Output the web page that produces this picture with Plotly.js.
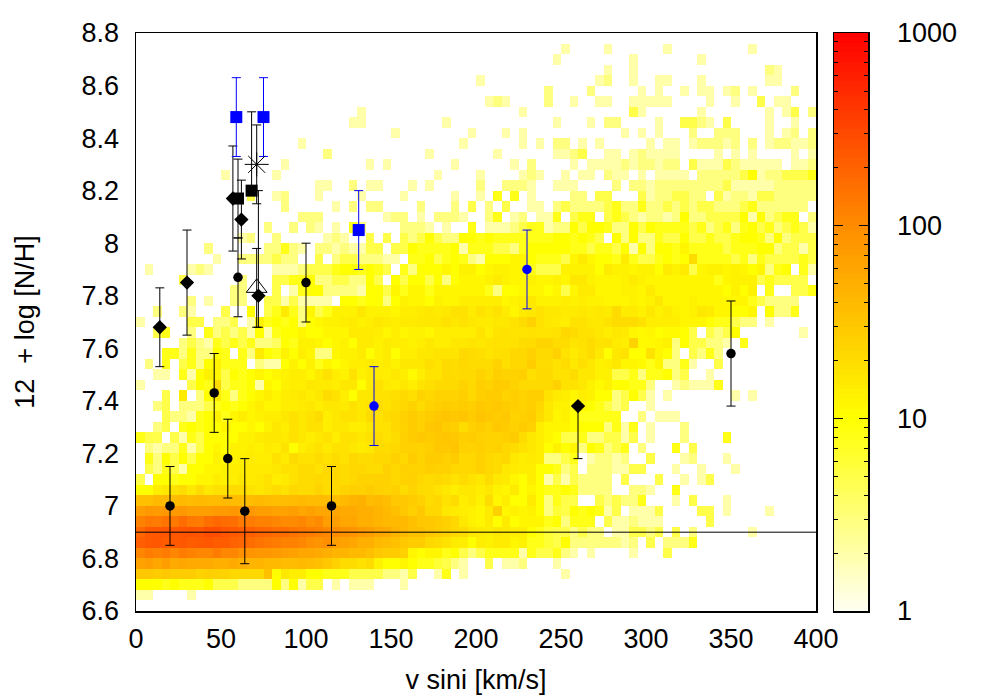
<!DOCTYPE html>
<html><head><meta charset="utf-8">
<script src="https://cdn.plot.ly/plotly-3.0.1.min.js"></script>
<style>html,body{margin:0;padding:0;background:#fff}</style>
</head><body><div id="g" style="width:1000px;height:700px"></div>
<script>
// Histogram counts, top row (8.76-8.80) first; each row runs v sini = 0..400 in 5 km/s bins. 0 = empty. Short rows are empty to the right.
const countRows = [
[],
[0,0,0,0,0,0,0,0,0,0,0,0,0,0,0,0,0,0,0,0,0,0,0,0,0,0,0,0,0,0,0,0,0,0,0,0,0,0,0,0,0,0,0,0,0,0,0,0,0,0,2,0,0,0,0,2,0,0,0,0,0,0,2,0,0,0,0,0,0,0,0,0,2],
[0,0,0,0,0,0,0,0,0,0,0,0,0,0,0,0,0,0,0,0,0,0,0,0,0,0,0,0,0,0,0,0,0,0,0,0,0,0,0,0,0,0,0,0,0,0,0,0,0,2,0,0,0,0,0,0,0,0,2,0,0,0,0,0,0,0,2],
[0,0,0,0,0,0,0,0,0,0,0,0,0,0,0,0,0,0,0,0,0,0,0,0,0,0,0,0,0,0,0,0,0,0,0,0,0,0,0,0,0,0,0,0,0,0,0,0,0,0,0,0,0,0,0,2,0,0,2,0,0,0,0,0,0,0,0,0,0,0,0,0,0,0,3,2],
[0,0,0,0,0,0,0,0,0,0,0,0,0,0,0,0,0,0,0,0,0,0,0,0,0,0,0,0,0,0,0,0,0,0,0,0,0,0,0,0,2,0,0,0,0,0,0,0,0,0,0,0,0,0,2,3,0,0,2,0,0,2,2,0,0,0,2,0,0,0,0,0,0,0,2,2],
[0,0,0,0,0,0,0,0,0,0,0,0,0,0,0,0,0,0,0,0,0,0,0,0,0,0,0,0,0,0,0,0,0,0,0,0,0,0,0,0,0,0,0,0,0,0,0,0,3,0,0,0,0,3,0,0,0,0,0,2,0,2,0,0,2,0,2,2,0,2,3,0,2,0,0,0,0,3],
[0,0,0,0,0,0,0,0,0,0,0,0,0,0,0,0,0,0,0,0,0,0,0,0,0,0,0,0,0,0,0,0,0,0,0,0,0,0,0,0,0,2,3,2,0,0,0,0,3,0,0,2,0,0,2,2,0,0,2,2,2,2,2,0,0,0,0,2,0,0,2,0,0,5,0,2,2],
[0,0,0,0,0,0,0,0,0,0,0,0,0,0,0,0,0,0,0,0,0,0,0,0,0,0,2,0,0,0,0,0,0,0,0,0,0,0,0,0,0,0,0,0,0,2,0,0,0,0,0,0,0,0,0,0,0,0,5,2,0,0,0,0,0,0,2,0,0,0,0,0,0,0,2,0,2,5,0,3],
[0,0,0,0,0,0,0,0,0,0,0,0,0,0,0,0,0,0,0,0,0,0,0,0,0,2,2,0,0,0,0,0,0,0,0,0,2,0,0,0,0,0,0,0,0,0,0,0,0,2,0,0,0,2,0,3,3,0,0,0,0,2,0,0,5,5,3,2,0,5,0,0,0,0,2,0,0,2],
[0,0,0,0,0,0,0,0,0,0,0,0,0,0,0,0,0,0,0,0,0,0,0,0,0,0,0,0,0,0,2,0,0,0,0,0,0,0,0,2,0,0,0,2,0,2,0,0,0,0,0,0,0,0,0,0,0,2,0,2,0,2,0,0,0,3,0,0,3,3,3,0,0,0,2,0,2,3,0,3],
[0,0,0,0,0,0,0,0,0,0,0,0,0,0,0,0,0,0,0,2,0,0,0,0,0,0,0,0,0,0,0,0,0,0,0,0,0,0,2,0,0,0,0,0,0,2,0,2,0,3,3,0,2,0,2,0,0,0,0,0,2,0,2,2,0,2,3,3,3,2,3,0,3,0,2,3,3,2,2,3],
[0,0,0,0,0,0,0,0,0,0,0,0,0,0,0,0,0,0,0,0,0,0,3,0,0,0,0,0,0,0,0,0,0,0,2,0,0,0,0,0,0,0,2,0,0,0,0,0,0,2,2,3,5,0,0,2,2,0,2,3,2,2,2,2,0,0,0,0,2,0,2,0,2,0,0,0,0,2,0,2],
[0,0,0,0,0,0,0,0,0,0,0,0,0,0,0,0,0,2,0,0,0,0,0,0,0,0,0,2,0,2,0,0,0,0,0,0,0,2,0,0,0,0,0,0,2,0,3,0,0,0,0,2,0,2,2,2,2,3,2,3,3,2,3,3,0,5,2,2,2,5,3,2,2,2,2,2,0,2,2,3],
[0,0,0,0,0,0,0,0,0,0,2,0,0,0,0,0,2,0,0,0,0,0,0,0,0,0,0,0,0,0,0,0,0,0,0,2,0,0,0,0,2,0,0,0,0,2,3,2,0,0,2,0,2,2,0,3,2,2,0,2,0,2,2,2,2,0,3,3,3,3,3,5,10,2,3,3,5,5,5,8],
[0,0,0,0,0,0,0,0,0,0,0,0,0,0,0,0,0,0,0,0,0,2,2,0,0,3,0,2,2,0,0,0,2,0,2,0,0,0,0,0,3,0,0,3,3,3,2,0,0,2,2,2,0,0,0,0,3,0,3,3,2,3,3,3,3,3,3,3,3,5,2,2,2,2,2,3,3,3,3,3],
[0,0,0,0,0,0,0,0,0,0,0,0,0,5,0,0,2,3,0,0,0,2,0,0,0,0,2,0,0,0,0,2,0,0,0,0,0,2,0,0,2,0,8,0,8,0,2,0,0,0,0,3,3,0,5,5,0,0,0,5,2,3,3,5,5,3,3,0,5,2,3,3,2,5,5,3,3,3,3,3],
[0,0,0,0,0,0,0,0,0,0,0,0,0,0,0,0,0,3,0,0,0,0,0,2,0,3,0,3,3,0,0,0,0,3,0,0,0,3,0,5,0,3,0,5,0,0,2,2,0,3,5,3,3,3,3,5,8,3,3,8,3,3,5,3,5,3,5,5,3,3,3,5,8,3,3,3,3,3,3,0],
[0,0,0,0,0,0,0,0,0,0,0,0,0,0,0,0,0,0,0,3,3,3,0,0,0,0,0,0,0,2,3,3,0,2,0,3,3,3,2,0,0,3,8,0,2,3,0,2,2,8,0,5,8,8,0,5,8,5,3,2,3,3,2,3,10,3,3,5,5,5,5,10,2,10,3,5,8,8,0,3],
[0,0,0,0,0,0,0,0,0,0,0,0,0,0,0,3,0,0,3,0,3,2,0,2,0,8,3,0,0,0,0,3,3,3,2,0,2,0,0,8,0,2,2,2,3,5,8,8,2,3,3,10,5,10,10,8,3,3,10,5,10,8,8,8,8,5,8,3,5,8,3,8,10,5,8,3,5,8,5,2],
[0,0,0,0,0,0,0,0,0,0,0,0,2,3,0,0,3,0,0,0,0,0,2,3,2,0,0,5,0,5,0,5,3,5,10,5,3,3,10,10,8,10,8,8,8,8,8,8,8,10,10,8,10,8,5,0,10,3,10,3,3,8,5,5,10,5,5,8,5,5,8,10,10,8,3,10,3,5,5,5],
[0,0,0,0,0,0,0,0,3,0,0,0,0,0,0,3,3,8,3,2,0,3,3,2,3,2,2,5,5,0,5,5,10,8,8,8,8,10,2,8,8,8,5,5,3,8,10,10,10,10,10,8,8,5,8,8,5,10,2,10,3,10,10,8,12,8,8,8,8,5,8,8,8,10,10,3,5,5,2,5],
[0,0,0,0,0,0,0,0,0,2,0,0,3,3,3,3,5,3,3,0,0,5,0,3,5,5,3,3,3,2,2,0,8,8,10,5,8,10,8,3,2,10,10,10,12,12,10,8,8,8,5,12,15,12,10,10,8,15,8,5,5,8,10,8,10,20,8,8,8,8,5,8,3,8,5,5,5,5,8,5],
[0,2,0,0,0,0,2,3,2,0,0,0,0,0,0,0,2,2,2,3,5,5,5,8,10,10,8,10,8,5,0,8,3,10,10,10,12,10,13,13,10,12,13,13,12,12,8,5,5,5,13,13,13,13,10,15,13,13,12,13,13,10,15,13,15,5,12,13,13,12,13,12,10,12,3,8,10,0,8,2],
[0,0,0,0,0,5,0,0,0,0,0,0,3,0,0,0,5,5,8,8,10,3,3,5,5,3,3,10,5,0,10,5,10,10,5,10,3,10,12,12,12,13,15,13,12,12,13,12,12,13,12,16,16,13,12,12,12,13,15,13,12,12,12,12,12,12,12,12,8,12,13,13,13,5,8,5,5,5,5,0],
[0,0,0,0,0,0,0,0,0,0,0,3,3,0,0,0,5,0,2,8,10,10,3,3,3,3,2,10,10,5,12,8,12,12,8,12,12,12,12,12,12,8,3,10,10,12,12,12,10,12,5,12,15,15,12,12,12,13,13,12,15,12,12,12,12,12,12,12,12,10,13,10,13,0,8,0,0,5,5,8],
[0,0,0,0,0,0,3,0,2,0,0,3,3,0,0,5,5,2,5,2,2,2,2,0,10,10,8,10,10,3,10,13,12,12,10,13,12,12,14,14,14,14,14,12,13,14,16,13,13,13,14,13,14,13,13,12,12,12,13,12,13,16,12,12,12,13,12,12,12,12,12,12,8,5,3,3,3,3],
[0,0,3,0,0,3,2,0,0,0,5,0,0,10,0,5,8,15,8,3,12,5,8,13,13,13,16,13,13,13,12,14,14,15,16,15,16,18,18,15,18,16,18,15,12,15,16,18,16,16,15,15,16,15,16,15,20,15,15,13,16,13,15,13,12,13,16,15,12,12,10,10,12,0,10,3,3,8],
[2,0,0,0,0,0,5,5,0,3,3,5,0,2,13,8,10,8,10,3,10,12,13,13,14,15,13,14,16,15,14,15,15,16,16,16,18,16,18,16,15,15,16,16,18,20,25,18,16,15,14,18,18,16,16,18,20,20,20,18,14,14,14,14,12,12,12,10,8,8,5,3,3,0,2],
[0,0,5,8,0,0,3,0,8,3,5,3,5,2,10,2,8,10,10,12,10,10,12,12,12,15,15,15,14,12,14,12,13,13,12,14,14,14,14,14,17,14,17,18,17,17,18,17,17,18,22,20,18,18,16,14,16,15,12,11,12,10,11,11,10,5,0,5,3,5,10,0,0,0,0,0,0,0,2],
[0,0,0,0,0,3,5,3,2,8,5,8,5,8,3,3,4,10,8,13,13,12,10,12,13,10,15,15,13,15,14,14,13,14,16,14,14,16,16,17,16,17,18,17,18,20,20,23,23,20,20,17,18,20,17,18,15,14,24,11,11,12,13,3,10,5,5,3,3,2,0,8],
[0,0,0,8,8,3,8,3,3,10,8,0,8,3,15,10,8,13,10,14,12,3,3,12,13,13,15,10,13,15,10,14,14,16,16,17,17,17,21,20,19,17,19,19,22,22,25,21,21,25,18,15,17,20,16,10,16,18,10,10,18,12,10,3,0,5,3,8,3],
[0,3,0,8,0,5,8,3,10,13,8,8,8,0,3,2,2,10,13,10,13,8,12,10,12,14,14,15,14,15,13,16,16,16,19,17,21,20,22,20,20,20,24,19,22,22,27,20,20,18,20,16,19,16,13,14,16,12,12,11,8,12,3,3,8,2,0,0,5],
[0,0,2,2,0,8,2,10,13,12,5,10,8,10,12,10,12,13,14,14,12,15,18,14,13,18,13,15,15,14,16,14,11,14,17,17,21,20,21,21,24,21,26,24,24,26,19,21,21,18,18,20,16,16,13,13,5,5,8,3,8,8,10,3,5,0,0,2],
[2,0,0,0,0,0,5,10,8,20,5,8,8,10,2,12,10,13,14,14,16,15,15,14,16,16,10,15,18,15,14,16,14,17,19,21,21,21,24,21,26,24,28,28,24,21,21,21,21,25,18,18,16,13,11,13,10,10,8,8,3,0,0,2,3,2,2,2,8],
[0,0,0,5,0,15,0,3,10,15,8,3,8,10,12,14,12,14,15,16,14,16,20,18,14,10,16,16,18,18,19,21,19,24,22,24,24,24,26,21,26,28,28,24,26,24,26,26,18,15,14,12,14,13,10,10,3,5,10,5,2,0,2,0,0,0,0,0,0,0,2,0,2],
[0,0,3,5,0,3,3,3,5,8,10,8,10,12,14,12,12,14,14,15,16,14,16,16,15,18,16,18,20,18,20,22,24,20,24,26,28,26,28,26,30,28,30,28,26,24,26,22,16,13,13,10,12,10,8,5,3,5,0,0,2],
[0,0,0,5,3,3,2,8,10,13,8,12,14,12,13,14,14,16,18,16,18,20,14,16,18,18,16,20,18,20,22,25,28,25,28,30,32,30,32,28,32,30,28,30,24,25,28,20,16,12,13,10,8,8,8,8,8,0,0,3,0,2,2,2],
[0,0,3,5,0,8,10,8,10,10,12,10,10,12,10,13,16,14,18,16,18,18,14,16,16,14,14,16,18,18,22,24,28,25,30,32,28,26,20,25,28,25,30,28,25,28,25,14,12,12,12,10,10,10,10,3,8,2,8,0,2,0,0,0,3],
[8,5,5,0,5,2,8,5,10,10,10,10,13,13,15,16,16,15,18,16,14,16,18,14,18,18,16,18,20,18,20,25,28,30,28,30,32,30,26,28,25,24,24,26,28,20,16,14,12,10,5,5,8,3,3,5,5,2,5,0,2,0,0,0,3,0,0,0,0,8],
[0,3,2,3,3,8,2,5,10,12,10,13,13,14,13,15,14,18,10,14,16,18,15,18,18,16,15,16,20,20,22,25,25,24,26,30,30,32,25,24,26,24,25,22,20,18,16,14,10,13,10,12,3,10,8,3,5,8,0,3,0,0,0,8,0,5],
[0,8,3,10,5,10,5,10,10,13,12,13,14,15,14,14,18,15,20,18,18,20,18,20,18,22,20,20,22,22,25,22,28,24,28,28,25,28,22,22,25,22,20,22,16,14,15,14,3,3,5,8,0,2,3,3,2,3,0,0,5,0,0,0,2,3,0,0,0,2],
[0,5,3,8,5,2,10,10,12,12,13,14,14,15,15,15,16,18,18,20,20,18,22,22,20,22,22,20,20,25,22,25,24,24,26,25,25,22,22,22,25,22,20,16,15,14,14,10,10,8,3,5,0,3,3,3,2,2,5,5,0,0,0,2,0,0,2,0,0,0,2],
[5,0,10,10,8,10,10,12,12,14,13,14,16,15,16,18,14,15,18,20,20,22,20,22,20,22,24,24,25,25,22,24,25,22,20,22,20,18,20,18,16,20,16,15,12,10,14,10,2,5,2,5,3,3,3,3,0,5,0,0,0,5,0,0,2,0,2,5],
[10,10,14,16,18,20,16,20,16,18,18,20,20,18,16,18,20,18,22,20,20,24,20,22,24,26,25,28,25,24,25,20,24,20,20,18,16,14,16,16,14,16,13,12,15,10,12,10,8,8,10,8,3,3,3,3,0,0,3,3,2,0,0,8],
[35,35,40,40,38,40,38,40,38,38,40,38,38,38,40,38,36,38,38,40,38,38,38,36,40,45,48,38,40,36,30,30,28,25,20,22,18,20,14,16,13,20,12,14,10,10,15,10,3,8,5,5,0,0,5,3,5,3,3,8,0,0,0,2,0,5,0,0,0,2],
[70,80,75,80,75,80,70,70,70,75,75,80,75,80,70,70,65,65,70,60,65,60,60,60,55,55,50,50,45,40,35,30,25,30,22,22,16,15,14,13,12,15,25,12,13,12,13,10,3,6,5,10,8,10,8,2,5,0,2,2,2,5,0,0,0,0,5,5,0,2,0,0,0,0,2],
[120,140,130,150,140,170,140,130,160,180,170,160,130,130,120,120,110,100,100,110,90,100,70,70,60,60,50,50,45,40,40,40,35,30,30,28,25,22,16,13,12,15,10,15,10,12,12,12,8,10,3,8,8,8,0,5,2,2,3,2,2,2,0,0,0,0,0,5],
[180,230,240,250,240,250,260,250,280,280,250,230,220,210,190,180,170,170,150,140,130,120,110,100,90,85,75,70,60,55,45,40,35,35,30,28,25,22,20,16,15,14,16,15,14,14,10,8,6,5,5,3,5,3,3,0,2,2,5,5,3,5,0,5,0,3,0,0,0,0,0,0,2],
[210,230,240,220,230,240,220,230,240,220,220,200,190,170,150,140,130,120,120,110,90,85,95,70,65,60,50,50,40,38,35,30,28,28,22,20,18,15,14,10,14,13,15,15,12,13,8,8,6,5,10,3,3,3,3,3,3,2,3,0,5,0,3,3,3,8],
[110,130,120,130,110,130,120,110,110,130,110,110,90,85,80,80,75,70,65,60,60,55,50,45,45,40,40,35,30,28,28,25,12,10,12,12,8,10,5,3,5,8,8,8,8,2,8,5,5,8,3,2,0,2,0,0,0,0,2,0,0,0,5],
[65,70,60,70,55,60,55,55,55,50,50,55,50,45,45,40,40,38,38,40,38,35,30,25,20,20,18,20,13,10,10,12,10,8,8,6,5,3,2,0,0,5,0,2,2,3,0,0,0,2],
[30,30,28,30,28,28,28,24,26,25,24,22,22,22,22,35,10,16,14,14,10,10,8,8,8,5,5,5,5,3,3,2,5,0,0,2,8,0,2,0,0,0,0,0,0,0,0,0,0,0,2],
[10,10,10,8,10,8,8,8,10,5,5,5,3,3,3,3,10,3,10,2,5,5,0,2,0,2,2,2,0,0,0,2],
[2,2,0,0,0,0,2],
[]
];
const binX0 = 2.5, binDX = 5, nCols = 80;
const binY0 = 6.62, binDY = 0.04;

// Abundance measurements: v sini, 12+log[N/H], upper and lower error
const circleV = [20,54,46,64,115,60,100,350];
const circleN = [7.0,7.18,7.43,6.98,7.0,7.87,7.85,7.58];
const circleUp = [0.15,0.15,0.15,0.2,0.15,0.15,0.15,0.2];
const circleDn = [0.15,0.15,0.15,0.2,0.15,0.15,0.15,0.2];
const blueCircleV = [140,230];
const blueCircleN = [7.38,7.9];
const blueCircleErr = [0.15,0.15];
const diamondV = [14,30,62,72,57,260];
const diamondN = [7.68,7.85,8.09,7.8,8.17,7.38];
const diamondUp = [0.15,0.2,0.15,0.4,0.2,0];
const diamondDn = [0.15,0.2,0.15,0.12,0.2,0.2];
const squareV = [60,68];
const squareN = [8.17,8.2];
const squareUp = [0.15,0.3];
const squareDn = [0.15,0];
const blueSquareV = [59,75,131];
const blueSquareN = [8.48,8.48,8.05];
const blueSquareErr = [0.15,0.15,0.15];
const triangleV = [71], triangleN = [7.83], triangleErr = [0.15];
const starV = [71], starN = [8.3], starErr = [0.15];
const refLineV = [0,400], refLineN = [6.9,6.9];

const xTicks = [0,50,100,150,200,250,300,350,400];
const yTicks = [6.6,6.8,7,7.2,7.4,7.6,7.8,8,8.2,8.4,8.6,8.8];
const yTickText = ['6.6','6.8','7','7.2','7.4','7.6','7.8','8','8.2','8.4','8.6','8.8'];
const heatScale = [[0,'#fffff2'],[1/3,'#ffff00'],[2/3,'#ff8c00'],[1,'#ff0000']];

const rowsBottomUp = countRows.slice().reverse();
const zLog = rowsBottomUp.map(r => {
  const out = [];
  for (let i = 0; i < nCols; i++) { const v = r[i]; out.push(v ? Math.log10(v) : null); }
  return out;
});

// colour key bands
const keyY = [], keyZ = [];
for (let i = 0; i < 120; i++) { const t = (i + 0.5) / 40; keyY.push(Math.pow(10, t)); keyZ.push([t, t]); }

const err = (up, dn, color) => ({type:'data', symmetric:false, array:up, arrayminus:dn, width:4.5, thickness:1, color:color});
const pts = (x, y, up, dn, color, symbol, size, lineW) => ({
  type:'scatter', mode:'markers', x:x, y:y, error_y:err(up, dn, color), hoverinfo:'x+y', showlegend:false,
  marker:{color:color, symbol:symbol, size:size, line:{color:color, width:lineW||0}}
});

const traces = [
 {type:'heatmap', z:zLog, x0:binX0, dx:binDX, y0:binY0, dy:binDY, zmin:0, zmax:3, colorscale:heatScale, showscale:false, zsmooth:false, hoverongaps:false},
 {type:'scatter', mode:'lines', x:refLineV, y:refLineN, line:{color:'#000', width:1}, hoverinfo:'skip', showlegend:false},
 pts(circleV, circleN, circleUp, circleDn, '#000', 'circle', 9.5),
 pts(blueCircleV, blueCircleN, blueCircleErr, blueCircleErr, '#0000ff', 'circle', 9.5),
 pts(diamondV, diamondN, diamondUp, diamondDn, '#000', 'diamond', 11),
 pts(squareV, squareN, squareUp, squareDn, '#000', 'square', 12),
 pts(blueSquareV, blueSquareN, blueSquareErr, blueSquareErr, '#0000ff', 'square', 12),
 pts(triangleV, triangleN, triangleErr, triangleErr, '#000', 'triangle-up-open', 18, 1),
 pts(starV, starN, starErr, starErr, '#000', 'asterisk-open', 20, 1),
 {type:'heatmap', xaxis:'x2', yaxis:'y2', x:[0,1], y:keyY, z:keyZ, zmin:0, zmax:3, colorscale:heatScale, showscale:false, hoverinfo:'skip', zsmooth:false}
];

const fam = '"Liberation Sans", Arial, sans-serif';
const tickFont = {family:fam, size:27, color:'#000'};
const domY = [1-611/700, 1-33/700];
const layout = {
  width:1000, height:700, margin:{l:0,r:0,t:0,b:0}, paper_bgcolor:'#fff', plot_bgcolor:'#fff', showlegend:false,
  font:tickFont,
  xaxis:{domain:[0.136,0.816], range:[0,400], tickvals:xTicks, ticks:'outside', ticklen:3, tickcolor:'rgba(0,0,0,0)', showgrid:false, zeroline:false,
    showline:true, mirror:true, linecolor:'#000', linewidth:1.5, tickfont:tickFont,
    title:{text:'v sini [km/s]', font:{family:fam,size:27,color:'#000'}, standoff:17}},
  yaxis:{domain:domY, range:[6.6,8.8], tickvals:yTicks, ticktext:yTickText, ticks:'outside', ticklen:10, tickcolor:'rgba(0,0,0,0)', showgrid:false, zeroline:false,
    showline:true, mirror:true, linecolor:'#000', linewidth:1.5, tickfont:tickFont,
    title:{text:'12\u00a0\u00a0+ log [N/H]', font:{family:fam,size:27,color:'#000'}, standoff:39}},
  xaxis2:{domain:[0.834,0.868], range:[0,1], anchor:'y2', showticklabels:false, ticks:'', showgrid:false, zeroline:false, showline:true, mirror:true, linecolor:'#000', linewidth:1.5},
  yaxis2:{domain:domY, type:'log', range:[0,3], anchor:'x2', side:'right', dtick:1, tickformat:'d', ticks:'inside', ticklen:9, tickwidth:1, tickcolor:'#000', mirror:'ticks',
    ticklabelstandoff:22, showgrid:false, zeroline:false, showline:true, linecolor:'#000', linewidth:1.5, tickfont:tickFont,
    minor:{ticks:'inside', ticklen:4, tickcolor:'#000', tickwidth:1, showgrid:false}}
};
Plotly.newPlot('g', traces, layout, {displayModeBar:false, staticPlot:true});
</script></body></html>
